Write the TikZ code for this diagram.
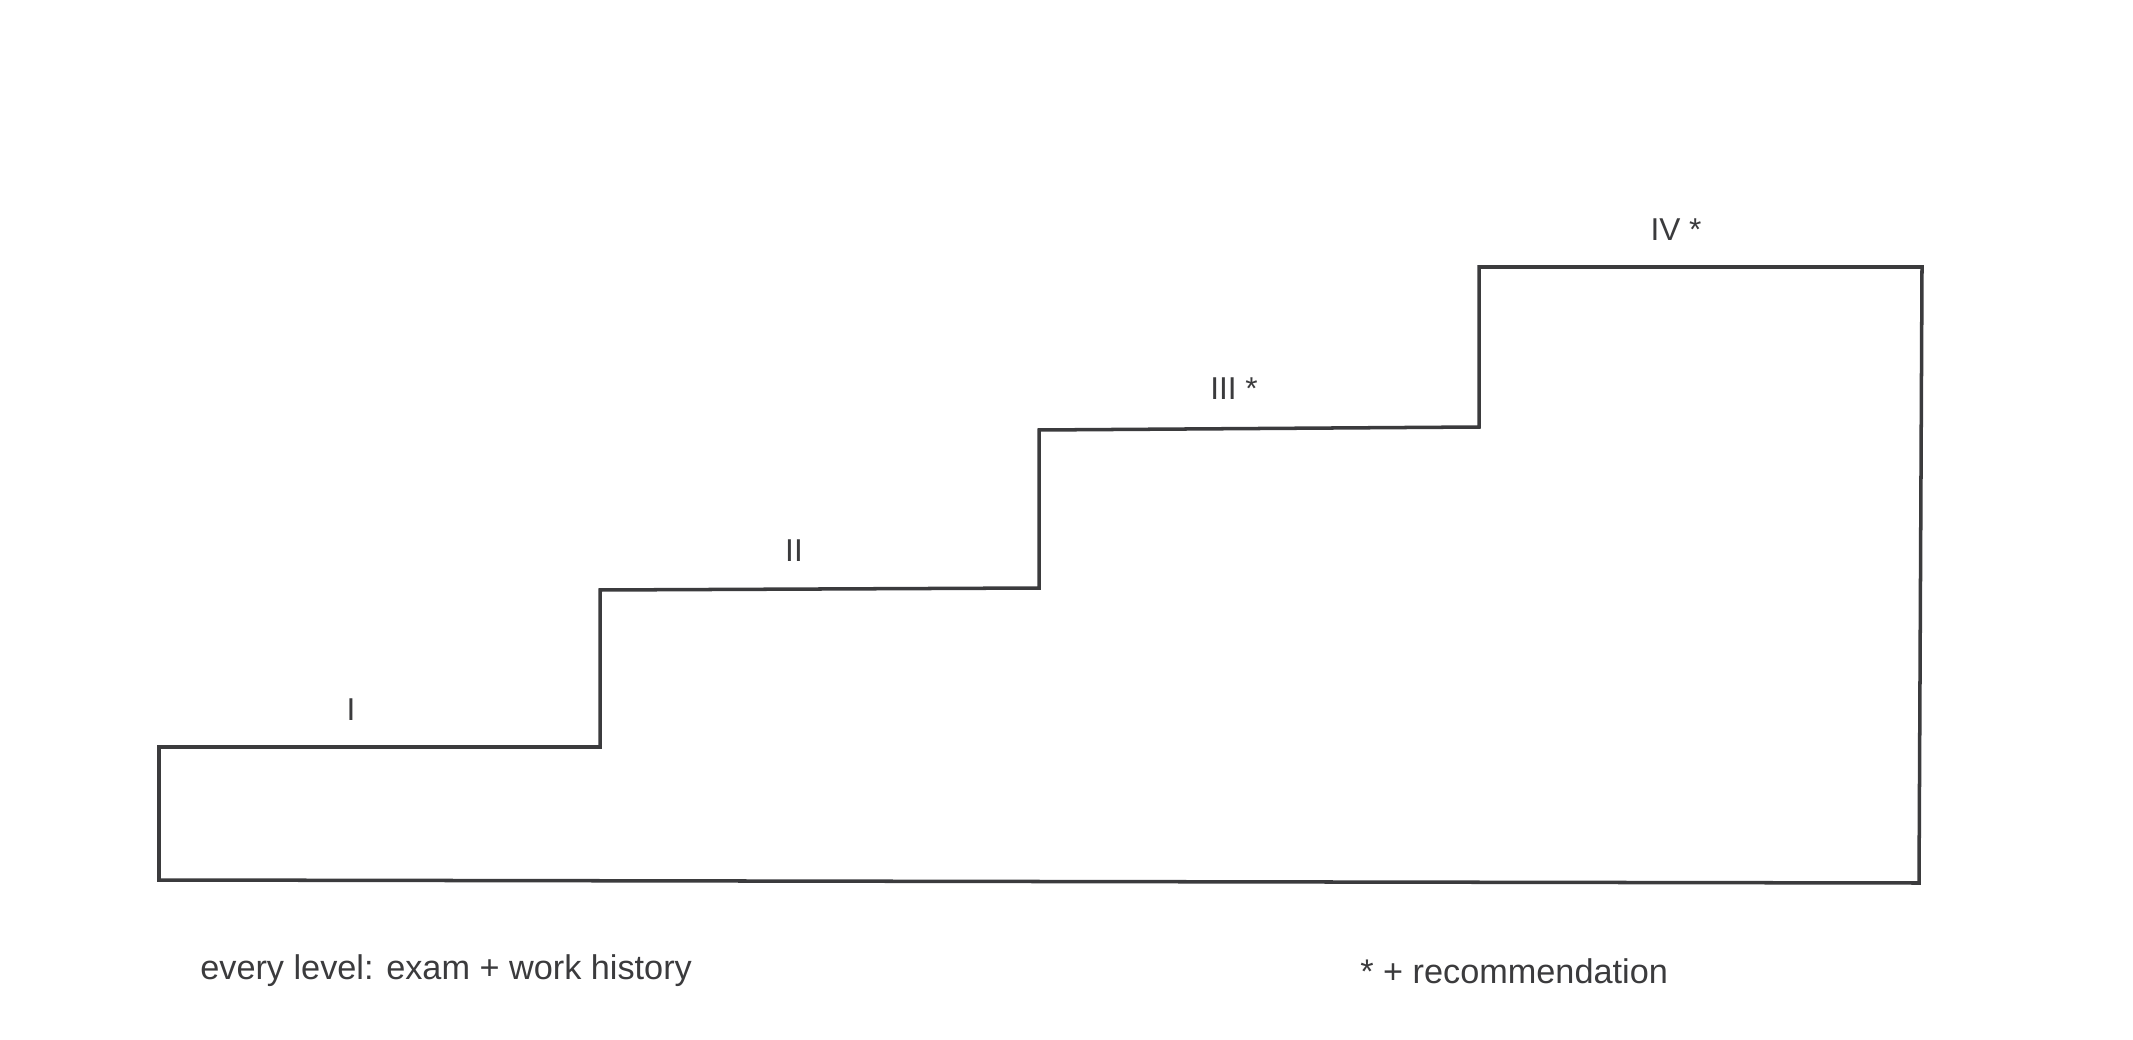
\documentclass[tikz,border=0pt]{standalone}
\usepackage{fontspec}
\setmainfont{Liberation Sans}
\usepackage{xcolor}
\definecolor{ink}{HTML}{3B3B3D}

\begin{document}
\begin{tikzpicture}[x=0.02cm,y=-0.02cm,
        stairline/.style={ink, line width=2pt, line join=miter},
        levellabel/.style={ink, font=\fontsize{18}{20}\selectfont, inner sep=0pt},
        notelabel/.style={ink, font=\fontsize{19.5}{22}\selectfont, inner sep=0pt}]
        \useasboundingbox (0,0) rectangle (2133,1040);
        % staircase outline
        \draw[stairline] (159,747) -- (600,747) -- (600,590) -- (1039,588)
                -- (1039,430) -- (1479,427) -- (1479,267) -- (1922,267)
                -- (1919,883) -- (159,880) -- cycle;
        % level labels
        \node[levellabel] (lvlone) at (351,710) {I};
        \node[levellabel] (lvltwo) at (794,551) {II};
        \node[levellabel] (lvlthree) at (1234,389) {III *};
        \node[levellabel] (lvlfour) at (1676,230) {IV *};
        % notes
        \node[notelabel, anchor=west] (every) at (200,971) {every level: exam + work history};
        \node[notelabel, anchor=west] (recom) at (1360,971) {* + recommendation};
\end{tikzpicture}
\end{document}
